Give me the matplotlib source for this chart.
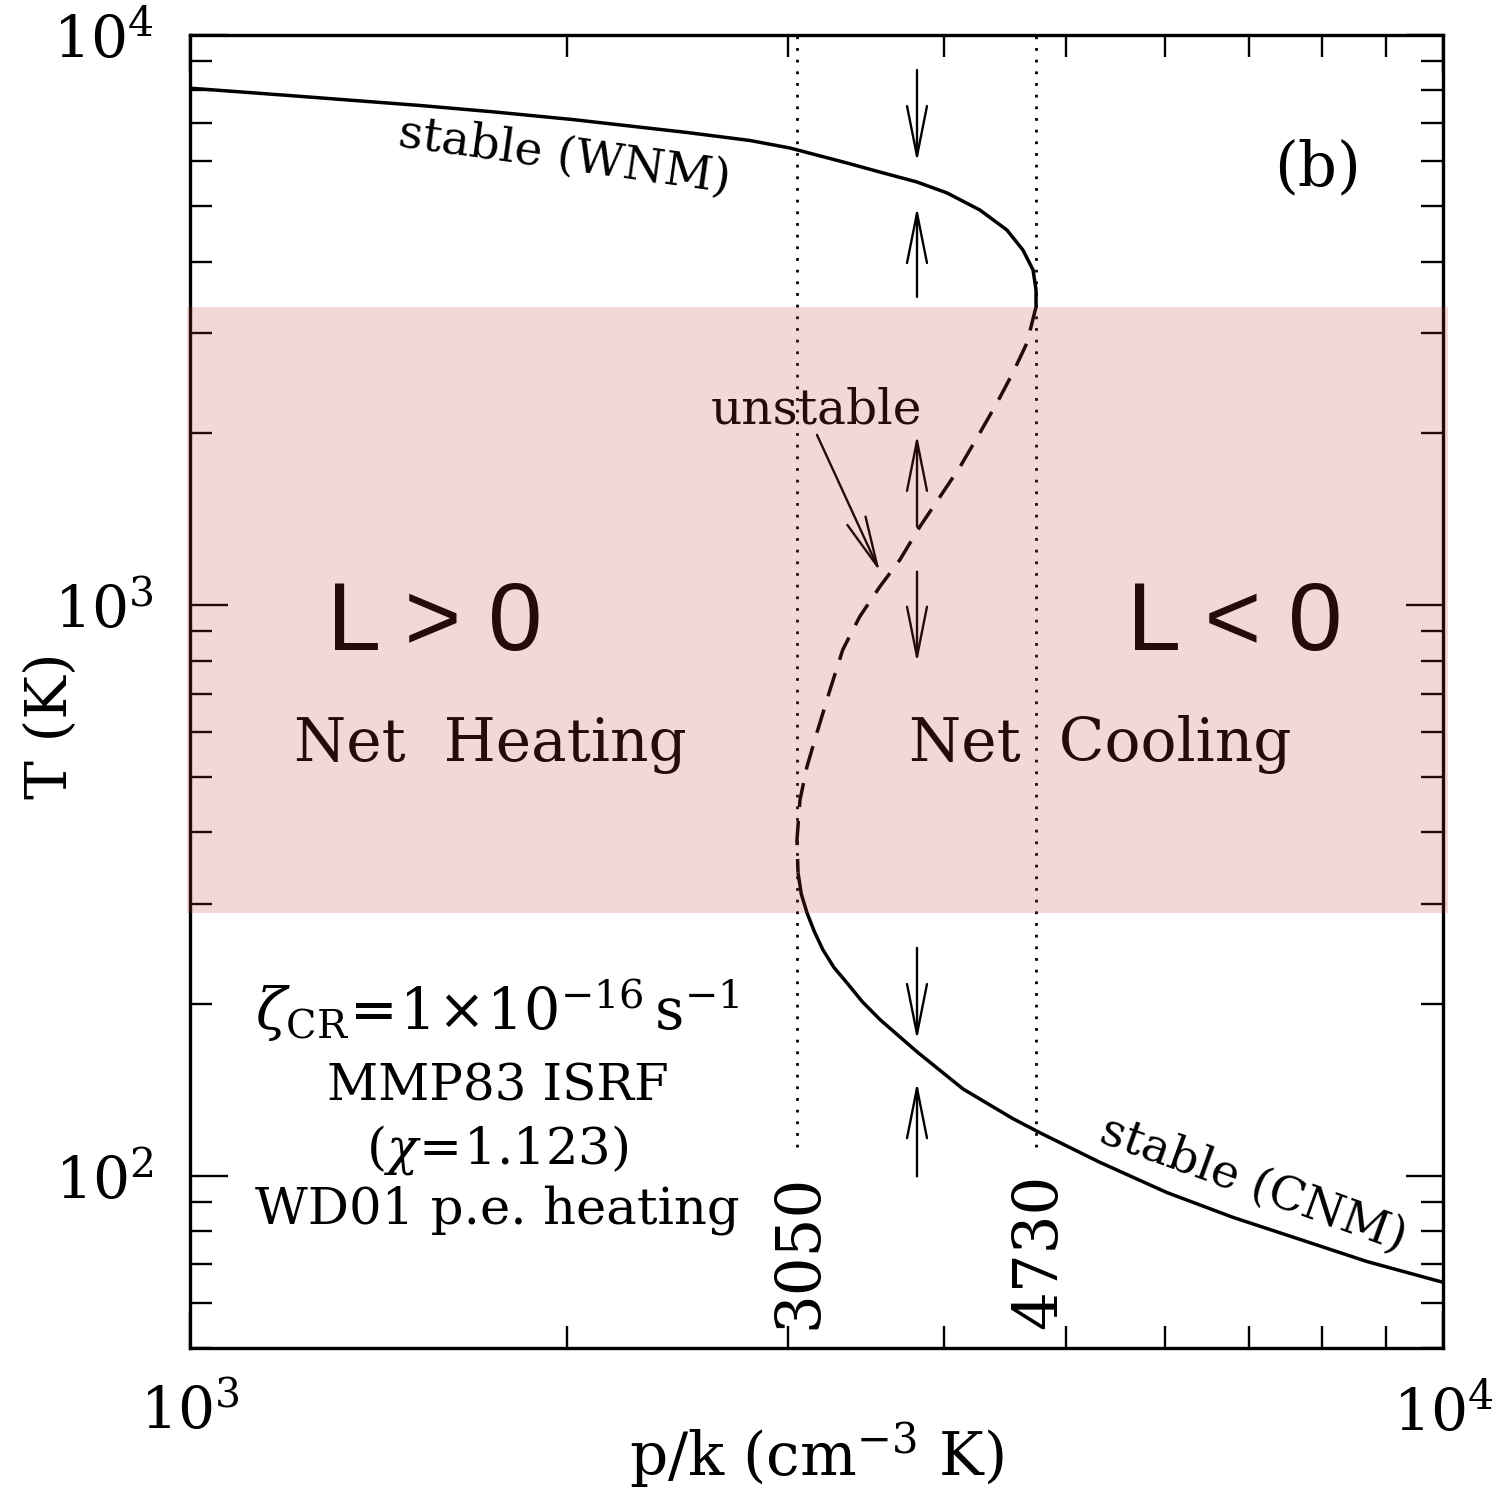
"""Thermal equilibrium curve T vs p/k with the thermally unstable band shaded."""
import matplotlib
matplotlib.use("Agg")
import matplotlib.pyplot as plt
from matplotlib.ticker import LogLocator, NullFormatter

# --- data -----------------------------------------------------------------
# warm stable branch (WNM)
p_warm = [1000, 1200, 1526, 1751, 2021, 2493, 2799, 3012, 3344, 3553, 3804, 4019, 4270, 4487,
          4621, 4708, 4734, 4734]
T_warm = [8055, 7820, 7512, 7317, 7097, 6736, 6522, 6327, 5957, 5743, 5516, 5279, 4927, 4546,
          4194, 3870, 3569, 3333]
# unstable branch (dashed)
p_unst = [4734, 4656, 4537, 4406, 4270, 4117, 3968, 3824, 3686, 3553, 3424, 3319, 3242, 3165,
          3108, 3068, 3051, 3057]
T_unst = [3333, 2882, 2555, 2262, 2005, 1748, 1549, 1373, 1201, 1078, 955, 836, 711, 598,
          522, 456, 388, 340]
# cold stable branch (CNM)
p_cold = [3057, 3075, 3108, 3150, 3200, 3265, 3344, 3440, 3553, 3804, 4140, 4537, 4769, 5325,
          6022, 6799, 7689, 8695, 10000]
T_cold = [340, 312, 289, 268, 249, 232, 218, 202, 188, 165, 142, 126, 119, 105.6,
          93.5, 84.6, 77.4, 70.8, 65.1]

p_crit = [3050, 4730]          # min / max pressure of the unstable range
crit_labels = ["3050", "4730"]
T_vline_lo = 112.6
band_T = (289, 3333)           # shaded unstable range

# little vertical arrows at p/k ~ 3800 (tail T, head T)
arrow_p = 3804
arrows_T = [(8665, 5978), (3470, 4987), (1373, 1989), (1145, 793), (251, 173), (99.8, 146)]

# --- figure -----------------------------------------------------------------
plt.rcParams['font.family'] = ['DejaVu Serif']
plt.rcParams['mathtext.fontset'] = 'dejavuserif'

fig = plt.figure(figsize=(14.97, 14.90), dpi=100)
ax = fig.add_axes([0.1269, 0.0955, 0.837, 0.8813])
ax.set_xscale('log'); ax.set_yscale('log')
ax.set_xlim(1e3, 1e4); ax.set_ylim(50, 1e4)

ax.plot(p_warm, T_warm, color='k', lw=2.5, solid_capstyle='butt', solid_joinstyle='round')
ax.plot(p_unst, T_unst, color='k', lw=2.5, ls=(0, (7, 4)))
ax.plot(p_cold, T_cold, color='k', lw=2.5, solid_capstyle='butt', solid_joinstyle='round')

for p in p_crit:
    ax.plot([p, p], [T_vline_lo, 1e4], color='k', lw=2.0, ls=(0, (1, 3.2)))

ap = dict(arrowstyle='->,head_length=1.8,head_width=0.36', lw=1.7, color='k',
          shrinkA=0, shrinkB=0, mutation_scale=20)
for tail, head in arrows_T:
    ax.annotate('', xy=(arrow_p, head), xytext=(arrow_p, tail), arrowprops=ap)

# "unstable" pointer
ax.text(3165, 2200, 'unstable', fontsize=35, ha='center', va='center')
ax.annotate('', xy=(3553, 1145), xytext=(3165, 1989), arrowprops=ap)

# labels on the curve
ax.text(1992, 6103, 'stable (WNM)', fontsize=34, rotation=-8, ha='center', va='center')
ax.text(7053, 96.6, 'stable (CNM)', fontsize=34, rotation=-20, ha='center', va='center')
ax.text(7948, 5837, '(b)', fontsize=44, ha='center', va='center')

# critical pressure labels
for p, lab in zip(p_crit, crit_labels):
    ax.text(p * 1.005, 73.8, lab, fontsize=44, rotation=90, ha='center', va='center')

# heating / cooling regions
ax.text(1568, 924, 'L > 0', fontsize=70, family='Liberation Sans', ha='center', va='center')
ax.text(6823, 924, 'L < 0', fontsize=70, family='Liberation Sans', ha='center', va='center')
ax.text(1736, 570, 'Net  Heating', fontsize=43, ha='center', va='center')
ax.text(5325, 570, 'Net  Cooling', fontsize=43, ha='center', va='center')

# model parameters
ax.text(1760, 195, r'$\zeta_{\rm CR}\!=\!1\!\times\!10^{-16}\,{\rm s}^{-1}$', fontsize=41,
        ha='center', va='center')
ax.text(1760, 143, 'MMP83 ISRF', fontsize=36, ha='center', va='center')
ax.text(1760, 111, r'$(\chi\!=\!1.123)$', fontsize=37, ha='center', va='center')
ax.text(1760, 87, 'WD01 p.e. heating', fontsize=37, ha='center', va='center')

# shaded band drawn on top, as in the original
ax.axhspan(band_T[0], band_T[1], xmin=-0.002, xmax=1.004, color=(190/255, 65/255, 45/255),
           alpha=0.2, lw=0, zorder=10, clip_on=False)

# axes cosmetics
for s in ax.spines.values():
    s.set_linewidth(2.4)
for axis in (ax.xaxis, ax.yaxis):
    axis.set_major_locator(LogLocator(base=10, numticks=10))
    axis.set_minor_locator(LogLocator(base=10, subs=range(2, 10), numticks=20))
    axis.set_minor_formatter(NullFormatter())
ax.tick_params(which='both', direction='in', top=True, right=True, width=1.7, labelsize=42)
ax.tick_params(which='major', length=27, pad=26)
ax.tick_params(which='minor', length=16)

ax.set_xlabel(r'p/k (cm$^{-3}$ K)', fontsize=43)
ax.xaxis.set_label_coords(0.5, -0.056)
ax.xaxis.label.set_va('top')
ax.set_ylabel('T (K)', fontsize=42)
ax.yaxis.set_label_coords(-0.089, 0.4734)

fig.savefig('out.png', dpi=100)
